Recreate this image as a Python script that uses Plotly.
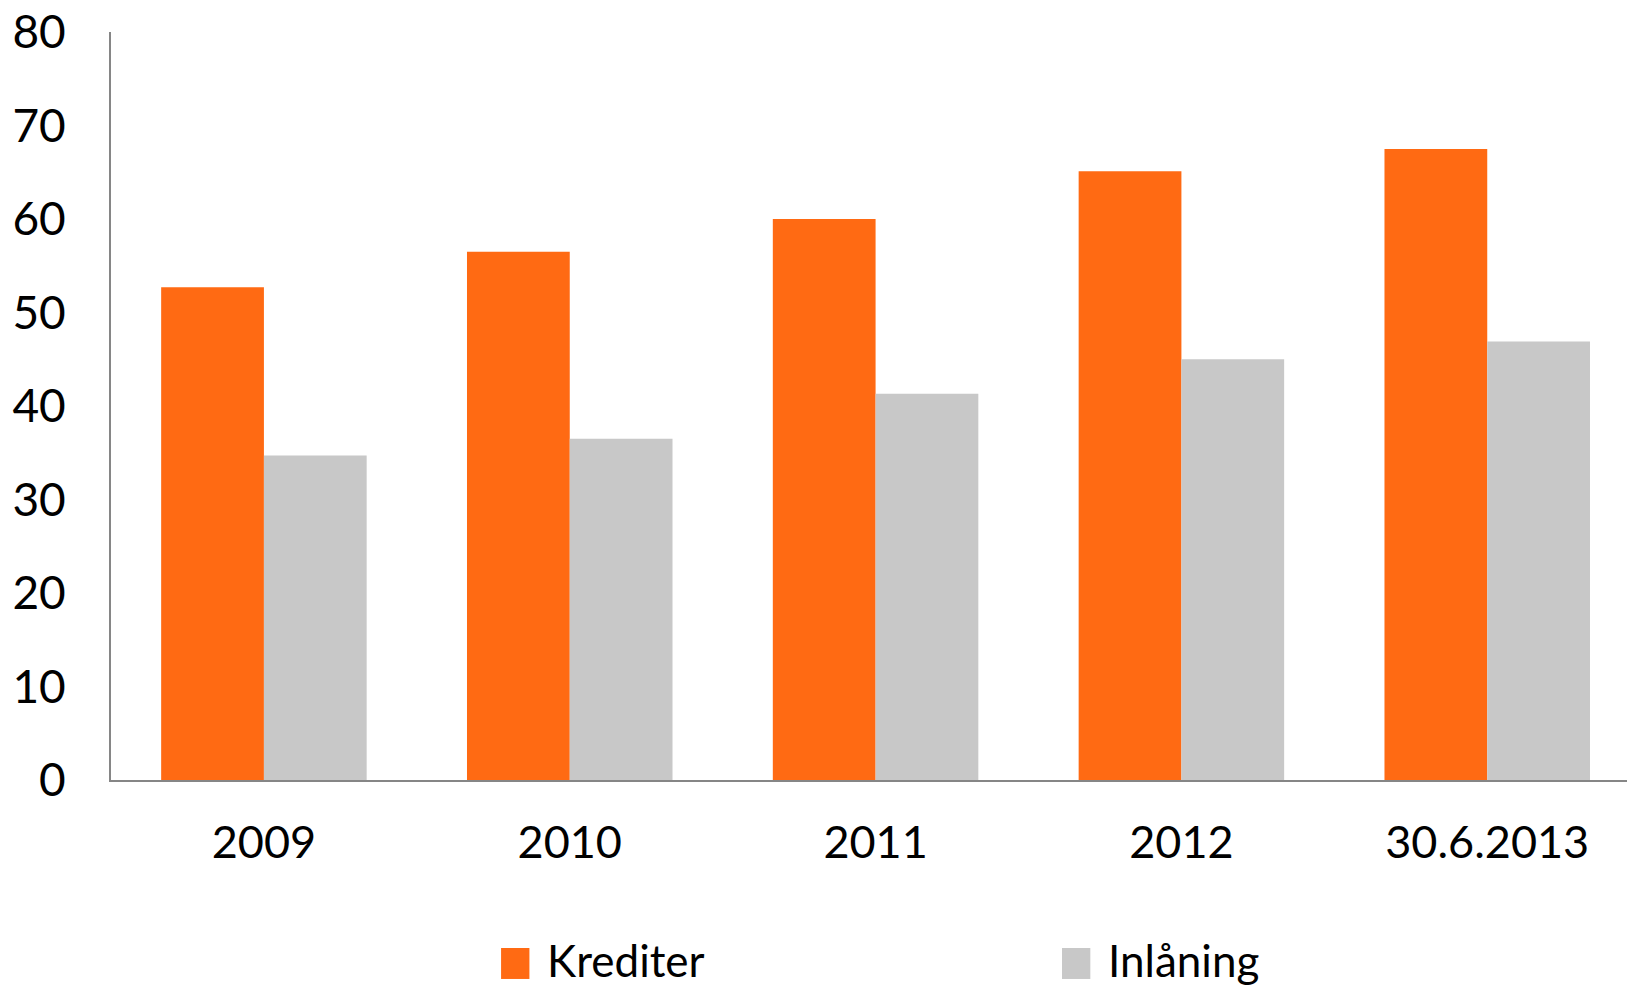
"""Krediter vs. Inlåning grouped bar chart."""

import plotly.graph_objects as go

categories = ["2009", "2010", "2011", "2012", "30.6.2013"]
krediter = [52.7, 56.5, 60.0, 65.1, 67.5]
inlaning = [34.7, 36.5, 41.3, 45.0, 46.9]
y_ticks = [0, 10, 20, 30, 40, 50, 60, 70, 80]

FONT = "Lato, 'Open Sans', sans-serif"
ORANGE = "#FF6A13"
GREY = "#C8C8C8"

fig = go.Figure()
fig.add_trace(go.Bar(x=categories, y=krediter, name="Krediter", marker={"color": ORANGE, "line": {"width": 0}}))
fig.add_trace(go.Bar(x=categories, y=inlaning, name="Inlåning", marker={"color": GREY, "line": {"width": 0}}))

# legend drawn by hand so the swatches can be as large as in the original
legend_items = [("Krediter", ORANGE, 0.2573), ("Inlåning", GREY, 0.6273)]
for label, color, x0 in legend_items:
    fig.add_shape(
        type="rect", xref="paper", yref="paper",
        x0=x0, x1=x0 + 0.0187, y0=-0.266, y1=-0.2246,
        fillcolor=color, line={"width": 0},
    )
    fig.add_annotation(
        text=label, xref="paper", yref="paper",
        x=x0 + 0.029, y=-0.240, xanchor="left", yanchor="middle",
        showarrow=False, font={"family": FONT, "size": 44, "color": "#000000"},
    )

fig.update_layout(
    width=1627,
    height=986,
    template="plotly_white",
    paper_bgcolor="white",
    plot_bgcolor="white",
    barmode="group",
    bargap=0.328,
    bargroupgap=0,
    margin={"l": 111, "r": 0, "t": 32, "b": 206},
    font={"family": FONT, "size": 46, "color": "#000000"},
    showlegend=False,
)

fig.update_xaxes(
    automargin=False,
    range=[-0.5, 4.457],  # last category runs slightly past the right edge
    showgrid=False,
    showline=True,
    linecolor="#868686",
    linewidth=2,
    ticks="",
    ticklabelstandoff=22,
    tickfont={"family": FONT, "size": 45, "color": "#000000"},
)
fig.update_yaxes(
    automargin=False,
    range=[0, 80],
    tickvals=y_ticks,
    showgrid=False,
    zeroline=False,
    showline=True,
    linecolor="#868686",
    linewidth=2,
    ticks="",
    ticklabelstandoff=34,
    tickfont={"family": FONT, "size": 46, "color": "#000000"},
)

# the page body has a default 8px margin; remove it so the figure fills the window
fig.write_html(
    "out.html",
    config={"displayModeBar": False},
    post_script="document.body.style.margin = '0';",
)
